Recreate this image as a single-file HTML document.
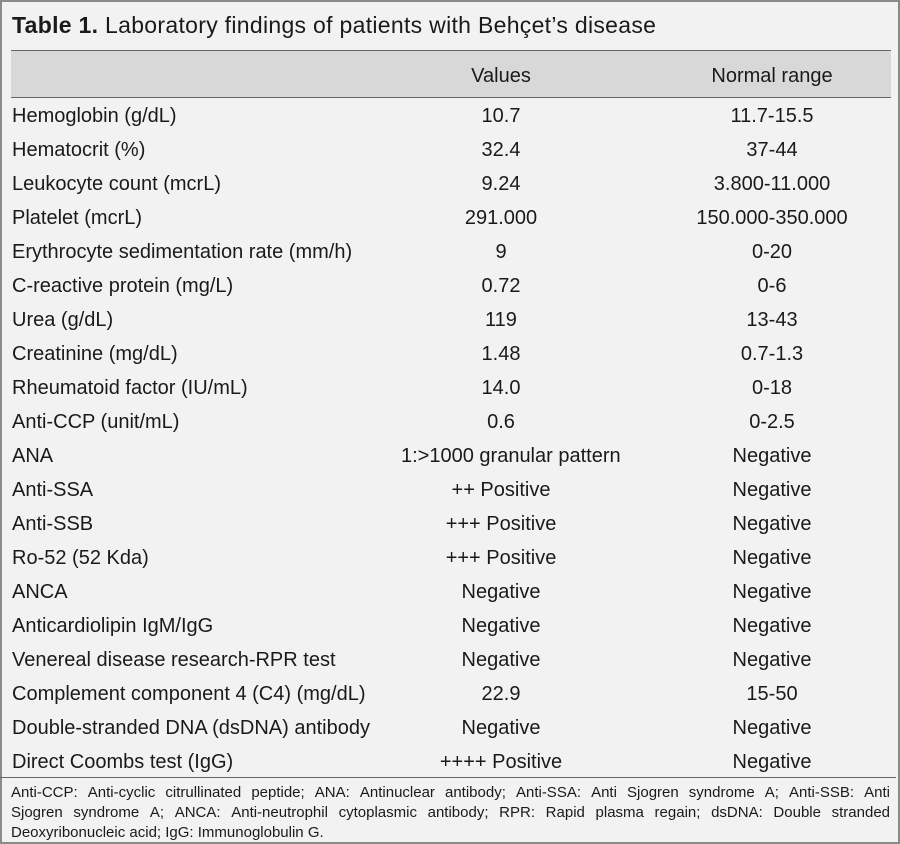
<!DOCTYPE html>
<html><head><meta charset="utf-8"><style>
html,body{margin:0;padding:0}
body{width:900px;height:844px;background:#f2f2f2;font-family:"Liberation Sans",sans-serif;color:#1a1a1a;position:relative;overflow:hidden}
.frame{position:absolute;left:0;top:0;width:896px;height:840px;border:2px solid #8a8a8a}
.title{position:absolute;left:12px;top:12px;font-size:23px;white-space:nowrap;letter-spacing:0.3px}
.title b{font-weight:bold}
.hdr{position:absolute;left:11px;top:50px;width:880px;height:46px;background:#d8d8d8;border-top:1px solid #666;border-bottom:1px solid #666}
.row{position:absolute;left:11px;width:880px;height:34px;font-size:20px;line-height:34px}
.c1{position:absolute;left:1px;white-space:nowrap}
.c2{position:absolute;left:390px;width:200px;text-align:center;white-space:nowrap}
.c3{position:absolute;left:661px;width:200px;text-align:center;white-space:nowrap}
.foot{position:absolute;left:0;top:777px;width:896px;border-top:1px solid #666}
.ft{position:absolute;left:11px;top:783px;width:879px;font-size:15px;line-height:20px}
.ft div{text-align:justify;text-align-last:justify;white-space:nowrap;display:flex;justify-content:space-between}
.ft div.l{display:block;text-align-last:left}
</style></head><body>
<div class="frame"></div>
<div class="title"><b>Table 1.</b> Laboratory findings of patients with Behçet’s disease</div>
<div class="hdr"></div>
<div class="row" style="top:59px"><span class="c2">Values</span><span class="c3">Normal range</span></div>
<div class="row" style="top:99px"><span class="c1">Hemoglobin (g/dL)</span><span class="c2">10.7</span><span class="c3">11.7-15.5</span></div>
<div class="row" style="top:133px"><span class="c1">Hematocrit (%)</span><span class="c2">32.4</span><span class="c3">37-44</span></div>
<div class="row" style="top:167px"><span class="c1">Leukocyte count (mcrL)</span><span class="c2">9.24</span><span class="c3">3.800-11.000</span></div>
<div class="row" style="top:201px"><span class="c1">Platelet (mcrL)</span><span class="c2">291.000</span><span class="c3">150.000-350.000</span></div>
<div class="row" style="top:235px"><span class="c1">Erythrocyte sedimentation rate (mm/h)</span><span class="c2">9</span><span class="c3">0-20</span></div>
<div class="row" style="top:269px"><span class="c1">C-reactive protein (mg/L)</span><span class="c2">0.72</span><span class="c3">0-6</span></div>
<div class="row" style="top:303px"><span class="c1">Urea (g/dL)</span><span class="c2">119</span><span class="c3">13-43</span></div>
<div class="row" style="top:337px"><span class="c1">Creatinine (mg/dL)</span><span class="c2">1.48</span><span class="c3">0.7-1.3</span></div>
<div class="row" style="top:371px"><span class="c1">Rheumatoid factor (IU/mL)</span><span class="c2">14.0</span><span class="c3">0-18</span></div>
<div class="row" style="top:405px"><span class="c1">Anti-CCP (unit/mL)</span><span class="c2">0.6</span><span class="c3">0-2.5</span></div>
<div class="row" style="top:439px"><span class="c1">ANA</span><span class="c2">1:&gt;1000 granular pattern</span><span class="c3">Negative</span></div>
<div class="row" style="top:473px"><span class="c1">Anti-SSA</span><span class="c2">++ Positive</span><span class="c3">Negative</span></div>
<div class="row" style="top:507px"><span class="c1">Anti-SSB</span><span class="c2">+++ Positive</span><span class="c3">Negative</span></div>
<div class="row" style="top:541px"><span class="c1">Ro-52 (52 Kda)</span><span class="c2">+++ Positive</span><span class="c3">Negative</span></div>
<div class="row" style="top:575px"><span class="c1">ANCA</span><span class="c2">Negative</span><span class="c3">Negative</span></div>
<div class="row" style="top:609px"><span class="c1">Anticardiolipin IgM/IgG</span><span class="c2">Negative</span><span class="c3">Negative</span></div>
<div class="row" style="top:643px"><span class="c1">Venereal disease research-RPR test</span><span class="c2">Negative</span><span class="c3">Negative</span></div>
<div class="row" style="top:677px"><span class="c1">Complement component 4 (C4) (mg/dL)</span><span class="c2">22.9</span><span class="c3">15-50</span></div>
<div class="row" style="top:711px"><span class="c1">Double-stranded DNA (dsDNA) antibody</span><span class="c2">Negative</span><span class="c3">Negative</span></div>
<div class="row" style="top:745px"><span class="c1">Direct Coombs test (IgG)</span><span class="c2">++++ Positive</span><span class="c3">Negative</span></div>
<div class="foot"></div>
<div class="ft">
<div><span>Anti-CCP:</span> <span>Anti-cyclic</span> <span>citrullinated</span> <span>peptide;</span> <span>ANA:</span> <span>Antinuclear</span> <span>antibody;</span> <span>Anti-SSA:</span> <span>Anti</span> <span>Sjogren</span> <span>syndrome</span> <span>A;</span> <span>Anti-SSB:</span> <span>Anti</span></div>
<div><span>Sjogren</span> <span>syndrome</span> <span>A;</span> <span>ANCA:</span> <span>Anti-neutrophil</span> <span>cytoplasmic</span> <span>antibody;</span> <span>RPR:</span> <span>Rapid</span> <span>plasma</span> <span>regain;</span> <span>dsDNA:</span> <span>Double</span> <span>stranded</span></div>
<div class="l">Deoxyribonucleic acid; IgG: Immunoglobulin G.</div>
</div>
</body></html>
